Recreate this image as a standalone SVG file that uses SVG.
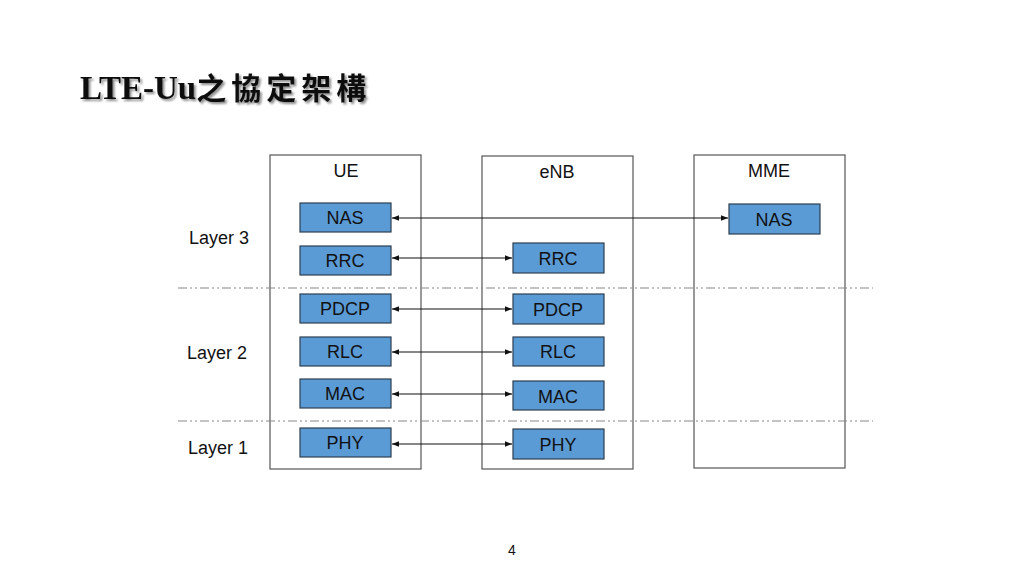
<svg xmlns="http://www.w3.org/2000/svg" width="1024" height="576" viewBox="0 0 1024 576">
<defs>
<style>
.ent{fill:none;stroke:#555;stroke-width:1.2}
.blk{fill:#5B9BD5;stroke:#2E3E50;stroke-width:1.2}
.t{font-family:"Liberation Sans",Arial,sans-serif;font-size:18px;fill:#111;text-anchor:middle}
.sep{stroke:#888;stroke-width:1.2;stroke-dasharray:9 3 2 3 2 3;fill:none}
.con{stroke:#111;stroke-width:1;fill:none;marker-start:url(#ah);marker-end:url(#ah)}
</style>
<marker id="ah" viewBox="0 0 10 10" refX="10" refY="5" markerWidth="7" markerHeight="7" orient="auto-start-reverse" markerUnits="userSpaceOnUse">
<path d="M0,1 L10,5 L0,9 z" fill="#111"/>
</marker>
<filter id="sh" x="-5%" y="-20%" width="110%" height="140%">
<feDropShadow dx="2" dy="2" stdDeviation="1" flood-color="#000" flood-opacity="0.45"/>
</filter>
</defs>
<rect width="1024" height="576" fill="#fff"/>
<g id="title" filter="url(#sh)">
<text x="80" y="99" font-family="'Liberation Serif','Noto Sans CJK TC',serif" font-size="33" font-weight="bold" fill="#111">LTE-Uu<tspan font-family="'Noto Sans CJK TC',sans-serif" font-size="30" letter-spacing="5">之協定架構</tspan></text>
</g>
<g id="ue">
<rect class="ent" x="270" y="155" width="151" height="314"/>
<text class="t" x="346" y="177">UE</text>
</g>
<g id="enb">
<rect class="ent" x="482" y="156" width="151" height="313"/>
<text class="t" x="557" y="178">eNB</text>
</g>
<g id="mme">
<rect class="ent" x="694" y="155" width="151" height="313"/>
<text class="t" x="769" y="177">MME</text>
</g>
<g id="separators">
<line class="sep" x1="178" y1="288" x2="873" y2="288"/>
<line class="sep" x1="178" y1="421" x2="873" y2="421"/>
</g>
<g id="layers">
<text class="t" x="219" y="244">Layer 3</text>
<text class="t" x="217" y="359">Layer 2</text>
<text class="t" x="218" y="454">Layer 1</text>
</g>
<g id="ue-nas"><rect class="blk" x="300" y="203" width="91" height="29"/><text class="t" x="345" y="224">NAS</text></g>
<g id="ue-rrc"><rect class="blk" x="300" y="246" width="91" height="29"/><text class="t" x="345" y="267">RRC</text></g>
<g id="ue-pdcp"><rect class="blk" x="300" y="294" width="91" height="29"/><text class="t" x="345" y="315">PDCP</text></g>
<g id="ue-rlc"><rect class="blk" x="300" y="337" width="91" height="29"/><text class="t" x="345" y="358">RLC</text></g>
<g id="ue-mac"><rect class="blk" x="300" y="379" width="91" height="29"/><text class="t" x="345" y="400">MAC</text></g>
<g id="ue-phy"><rect class="blk" x="300" y="428" width="91" height="29"/><text class="t" x="345" y="449">PHY</text></g>
<g id="enb-rrc"><rect class="blk" x="513" y="243" width="91" height="30"/><text class="t" x="558" y="265">RRC</text></g>
<g id="enb-pdcp"><rect class="blk" x="513" y="294" width="91" height="30"/><text class="t" x="558" y="316">PDCP</text></g>
<g id="enb-rlc"><rect class="blk" x="513" y="337" width="91" height="29"/><text class="t" x="558" y="358">RLC</text></g>
<g id="enb-mac"><rect class="blk" x="513" y="381" width="91" height="29"/><text class="t" x="558" y="403">MAC</text></g>
<g id="enb-phy"><rect class="blk" x="513" y="429" width="91" height="30"/><text class="t" x="558" y="451">PHY</text></g>
<g id="mme-nas"><rect class="blk" x="729" y="204" width="91" height="30"/><text class="t" x="774" y="226">NAS</text></g>
<g id="connectors">
<line class="con" x1="392" y1="218" x2="728" y2="218"/>
<line class="con" x1="392" y1="258" x2="512" y2="258"/>
<line class="con" x1="392" y1="309" x2="512" y2="309"/>
<line class="con" x1="392" y1="352" x2="512" y2="352"/>
<line class="con" x1="392" y1="394" x2="512" y2="394"/>
<line class="con" x1="392" y1="444" x2="512" y2="444"/>
</g>
<text id="page" x="512" y="555" font-family="'Liberation Sans',Arial,sans-serif" font-size="14" fill="#111" text-anchor="middle">4</text>
</svg>
